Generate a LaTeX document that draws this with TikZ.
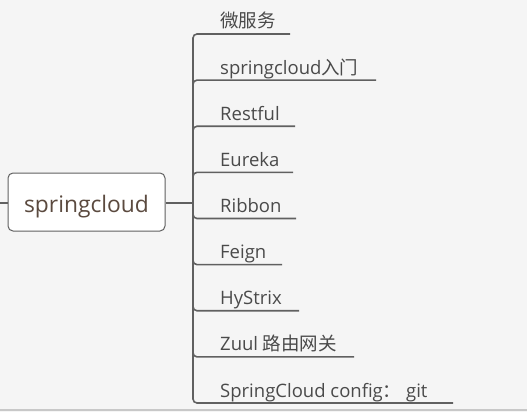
\documentclass[tikz,border=0pt]{standalone}
\usepackage{fontspec}
\setmainfont{Open Sans}
\newfontfamily\cjk{Noto Sans CJK SC}
\definecolor{bgc}{HTML}{F5F5F5}
\definecolor{edgec}{HTML}{C8C8C8}
\definecolor{linec}{HTML}{606060}
\definecolor{leafc}{HTML}{4A4A4A}
\definecolor{rootc}{HTML}{5B4A3F}
\tikzset{
  rootbox/.style={draw=linec, line width=1pt, fill=white, rounded corners=5pt,
    minimum width=157pt, minimum height=58pt, inner sep=0pt,
    text height=26pt, text depth=5.5pt,
    text=rootc, font=\fontsize{22.8}{26}\selectfont},
  leaf/.style={inner sep=0pt, anchor=base west, text=leafc, font=\fontsize{18.5}{22}\selectfont},
  conn/.style={draw=linec, line width=2.5pt},
  branch/.style={draw=linec, line width=1.6pt, rounded corners=4pt},
}
\begin{document}
\begin{tikzpicture}[x=1pt,y=-1pt]
\useasboundingbox (0,0) rectangle (527,412);
\fill[bgc] (0,0) rectangle (527,412);
\draw[edgec, line width=1.5pt] (0,410) -- (527,410);
\node[rootbox] (root) at (86.5,202) {springcloud};
\coordinate (in) at (0,203);
\coordinate (hub) at (193,203);
\draw[conn] (in) -- (in -| root.west);
\draw[conn] (hub -| root.east) -- (hub);
\foreach \i/\t/\e in {0/{\cjk 微服务}/290, 1/{springcloud\cjk 入门}/376, 2/Restful/295,
  3/Eureka/293, 4/Ribbon/296, 5/Feign/282, 6/HyStrix/299,
  7/{Zuul {\cjk 路由网关}}/354, 8/{SpringCloud config{\cjk ：} git}/453}{
  \pgfmathsetmacro{\yy}{34+46.125*\i}
  \coordinate (u\i) at (\e,\yy);
  \node[leaf] (t\i) at (220,\yy-6) {\t};
  \draw[branch] (hub) |- (u\i);
}
\end{tikzpicture}
\end{document}
